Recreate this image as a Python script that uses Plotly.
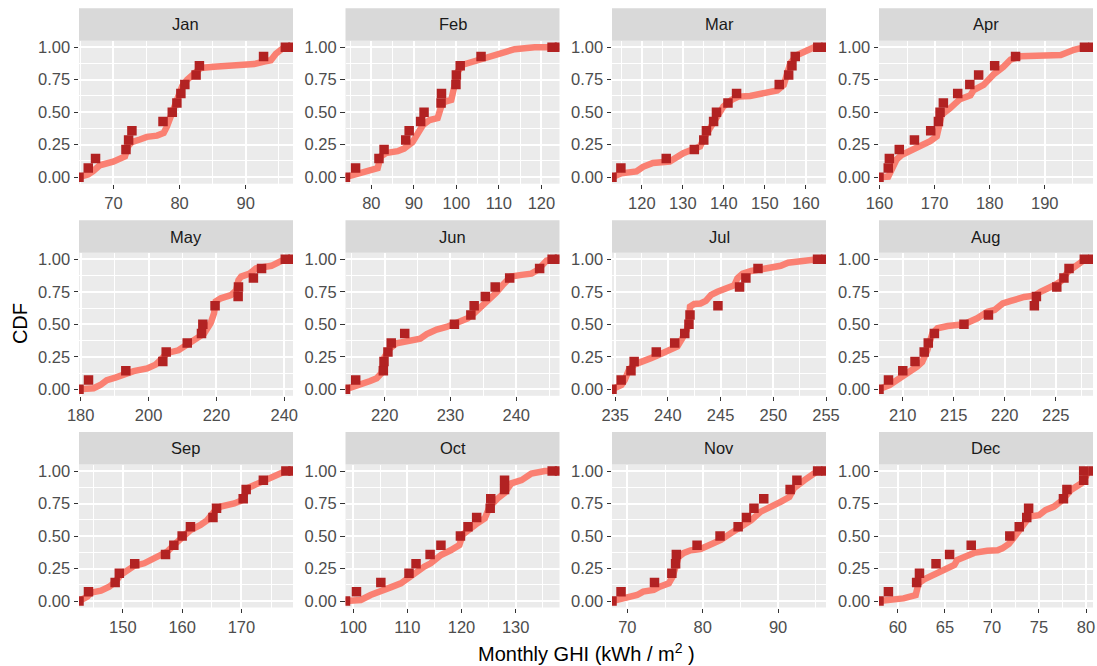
import plotly.graph_objects as go

# ---------------- data ----------------
MONTHS = ["Jan", "Feb", "Mar", "Apr", "May", "Jun",
          "Jul", "Aug", "Sep", "Oct", "Nov", "Dec"]

LV = [0, 0.071, 0.143, 0.214, 0.286, 0.357, 0.429, 0.5, 0.571, 0.643, 0.714, 0.786, 0.857, 0.929, 1.0, 1.0]

jan_pts_x = [64.8, 66.2, 67.3, 71.9, 72.3, 72.8, 77.5, 78.9, 79.6, 80.2, 80.8, 82.5, 83.0, 92.7, 96.0, 97.15]
jan_pts_y = LV
jan_line_x = [64.8, 66.16, 66.93, 67.94, 69.97, 71.75, 72.25, 72.76, 74.0, 75.06, 76.6, 77.6, 78.1, 78.87, 79.6,
              80.4, 81.15, 82.2, 83.2, 85.2, 88.24, 91.28, 92.8, 93.8, 94.56, 95.57, 96.84, 97.15]
jan_line_y = [0, 0.02, 0.046, 0.092, 0.12, 0.16, 0.24, 0.27, 0.29, 0.31, 0.32, 0.34, 0.39, 0.49, 0.60,
              0.70, 0.75, 0.79, 0.84, 0.85, 0.86, 0.87, 0.89, 0.90, 0.95, 0.99, 1.0, 1.0]

feb_pts_x = [73.93, 76.3, 81.8, 83.0, 88.1, 88.9, 91.6, 92.4, 96.4, 96.5, 99.9, 100.0, 100.9, 105.8, 122.5, 124.25]
feb_pts_y = LV
feb_line_x = [73.93, 77.5, 79.9, 81.5, 82.2, 83.4, 86.2, 87.7, 89.7, 90.9, 92.1, 93.7, 95.6, 96.4, 97.2, 98.8,
              99.6, 100.3, 101.5, 103.9, 105.8, 109.0, 112.1, 113.7, 118.4, 124.25]
feb_line_y = [0, 0.03, 0.05, 0.07, 0.16, 0.185, 0.2, 0.22, 0.27, 0.34, 0.40, 0.44, 0.455, 0.54, 0.58, 0.595,
              0.70, 0.81, 0.865, 0.89, 0.915, 0.94, 0.97, 0.985, 1.0, 1.0]

mar_pts_x = [112.73, 114.9, 125.95, 132.8, 135.1, 135.75, 137.5, 138.2, 141.0, 143.1, 153.5, 155.8, 156.6, 157.4, 162.9, 164.9]
mar_pts_y = LV
mar_line_x = [112.73, 115.0, 118.7, 120.3, 122.7, 126.8, 130.1, 131.7, 134.2, 135.4, 136.6, 138.3, 139.9, 141.9,
              143.6, 146.4, 149.7, 153.0, 154.6, 155.4, 156.2, 157.9, 159.5, 162.0, 164.9]
mar_line_y = [0, 0.03, 0.044, 0.08, 0.11, 0.12, 0.185, 0.2, 0.236, 0.315, 0.38, 0.47, 0.545, 0.595,
              0.62, 0.625, 0.64, 0.667, 0.71, 0.80, 0.877, 0.94, 0.967, 1.0, 1.0]

apr_pts_x = [159.92, 161.6, 161.8, 163.6, 166.35, 169.3, 170.7, 171.0, 171.6, 174.2, 176.4, 178.0, 180.9, 184.7, 197.2, 198.75]
apr_pts_y = LV
apr_line_x = [159.92, 161.6, 162.2, 163.1, 164.0, 165.5, 167.4, 169.2, 170.4, 170.9, 171.3, 172.8, 174.6, 176.5,
              177.1, 178.9, 180.7, 182.5, 183.8, 185.6, 188.6, 192.9, 195.3, 197.2, 198.75]
apr_line_y = [0, 0.005, 0.056, 0.136, 0.17, 0.2, 0.24, 0.277, 0.315, 0.42, 0.48, 0.53, 0.6, 0.63,
              0.67, 0.71, 0.79, 0.85, 0.905, 0.93, 0.935, 0.94, 0.98, 1.0, 1.0]

may_pts_x = [179.5, 182.3, 193.3, 204.2, 205.2, 211.4, 215.6, 216.0, 219.6, 226.4, 226.5, 230.9, 233.3, 240.3, 242.57]
may_pts_y = [0, 0.071, 0.143, 0.214, 0.286, 0.357, 0.429, 0.5, 0.643, 0.714, 0.786, 0.857, 0.929, 1.0, 1.0]
may_line_x = [179.5, 183.8, 185.8, 187.7, 190.2, 193.6, 195.6, 199.6, 202.1, 203.5, 205.5, 208.8, 211.4, 214.4,
              216.4, 218.3, 219.3, 219.8, 221.3, 224.3, 225.8, 226.5, 227.3, 229.8, 231.7, 236.2, 238.1, 240.1, 242.57]
may_line_y = [0, 0.008, 0.033, 0.07, 0.09, 0.12, 0.14, 0.16, 0.19, 0.225, 0.28, 0.30, 0.34, 0.39,
              0.43, 0.51, 0.585, 0.675, 0.70, 0.725, 0.76, 0.84, 0.867, 0.89, 0.93, 0.95, 0.974, 1.0, 1.0]

jun_pts_x = [214.05, 215.6, 219.8, 219.9, 220.5, 221.0, 223.05, 230.6, 233.1, 233.6, 235.3, 236.8, 239.0, 243.55, 245.45, 246.57]
jun_pts_y = LV
jun_line_x = [214.05, 216.3, 217.8, 218.8, 219.5, 220.0, 220.8, 221.8, 223.3, 224.4, 225.4, 226.4, 227.9, 229.4,
              231.1, 232.6, 233.6, 234.7, 235.9, 236.9, 237.9, 239.2, 240.8, 242.3, 243.3, 244.6, 245.35, 246.57]
jun_line_y = [0, 0.033, 0.064, 0.085, 0.123, 0.25, 0.315, 0.354, 0.367, 0.38, 0.39, 0.425, 0.46, 0.48,
              0.51, 0.546, 0.585, 0.636, 0.687, 0.74, 0.80, 0.867, 0.88, 0.89, 0.92, 0.99, 1.0, 1.0]

jul_pts_x = [234.7, 235.57, 236.5, 236.8, 238.9, 240.65, 241.6, 242.0, 242.1, 244.75, 246.8, 247.4, 248.55, 254.2, 255.0]
jul_pts_y = [0, 0.071, 0.143, 0.214, 0.286, 0.357, 0.429, 0.5, 0.571, 0.643, 0.786, 0.857, 0.929, 1.0, 1.0]
jul_line_x = [234.7, 235.6, 235.9, 236.3, 236.8, 237.6, 238.4, 239.0, 239.8, 240.4, 240.9, 241.35, 241.8, 242.0,
              242.1, 242.5, 243.1, 243.6, 244.1, 244.7, 245.6, 246.3, 246.6, 247.1, 247.9, 249.1, 250.7, 251.4,
              252.6, 254.2, 255.0]
jul_line_y = [0, 0.033, 0.07, 0.15, 0.19, 0.21, 0.24, 0.26, 0.29, 0.30, 0.33, 0.39, 0.456, 0.53,
              0.636, 0.656, 0.66, 0.68, 0.726, 0.75, 0.777, 0.80, 0.854, 0.89, 0.91, 0.923, 0.95, 0.974,
              0.987, 1.0, 1.0]

aug_pts_x = [207.67, 208.6, 210.0, 211.2, 212.1, 212.5, 213.1, 216.0, 218.4, 222.9, 223.1, 225.1, 225.8, 226.3, 227.8, 228.65]
aug_pts_y = LV
aug_line_x = [207.67, 208.7, 209.4, 210.4, 211.4, 211.9, 212.4, 212.9, 213.4, 214.4, 216.0, 217.3, 218.3, 219.0,
              219.8, 220.6, 221.9, 222.9, 223.5, 224.85, 225.5, 226.2, 227.1, 227.8, 228.65]
aug_line_y = [0, 0.033, 0.07, 0.12, 0.175, 0.21, 0.30, 0.43, 0.47, 0.487, 0.5, 0.546, 0.597, 0.61,
              0.66, 0.68, 0.71, 0.72, 0.75, 0.80, 0.83, 0.905, 0.956, 0.995, 1.0]

sep_pts_x = [142.6, 144.2, 148.7, 149.4, 152.0, 157.2, 158.6, 160.0, 161.4, 165.2, 165.8, 170.3, 170.8, 173.7, 177.5, 178.7]
sep_pts_y = LV
sep_line_x = [142.6, 144.0, 144.6, 146.3, 147.7, 148.8, 149.6, 150.8, 151.9, 153.6, 155.3, 157.5, 158.6, 160.0,
              161.4, 163.1, 164.2, 165.4, 166.5, 168.8, 170.2, 171.0, 172.7, 174.4, 176.1, 177.5, 178.7]
sep_line_y = [0, 0.033, 0.064, 0.08, 0.11, 0.15, 0.2, 0.24, 0.27, 0.29, 0.33, 0.38, 0.43, 0.49,
              0.546, 0.585, 0.62, 0.687, 0.726, 0.75, 0.777, 0.867, 0.905, 0.93, 0.97, 1.0, 1.0]

oct_pts_x = [98.57, 100.6, 105.1, 110.3, 111.6, 114.2, 116.2, 119.8, 121.2, 122.8, 125.3, 125.4, 127.95, 127.95, 136.75, 138.1]
oct_pts_y = LV
oct_line_x = [98.57, 101.4, 103.2, 105.1, 106.9, 108.8, 110.0, 111.9, 113.1, 114.3, 116.2, 118.0, 119.6, 120.2,
              121.2, 123.0, 124.3, 125.2, 126.7, 128.0, 129.2, 131.1, 132.9, 135.4, 138.1]
oct_line_y = [0, 0.008, 0.046, 0.072, 0.105, 0.136, 0.174, 0.226, 0.264, 0.29, 0.354, 0.39, 0.43, 0.51,
              0.546, 0.60, 0.636, 0.726, 0.79, 0.833, 0.905, 0.93, 0.98, 1.0, 1.0]

nov_pts_x = [67.96, 69.16, 73.6, 75.9, 76.4, 76.5, 79.25, 82.3, 84.7, 85.8, 86.8, 88.1, 91.6, 92.5, 95.25, 96.36]
nov_pts_y = LV
nov_line_x = [67.96, 69.9, 71.3, 72.1, 73.5, 74.3, 75.5, 76.0, 76.4, 76.8, 77.5, 78.4, 79.7, 81.0, 82.4,
              83.7, 85.0, 86.4, 87.7, 89.0, 90.4, 91.5, 92.1, 93.5, 94.8, 95.25, 96.36]
nov_line_y = [0, 0.02, 0.046, 0.072, 0.085, 0.11, 0.136, 0.187, 0.29, 0.34, 0.37, 0.39, 0.40, 0.43, 0.47,
              0.52, 0.567, 0.62, 0.687, 0.72, 0.764, 0.80, 0.867, 0.93, 0.98, 1.0, 1.0]

dec_pts_x = [58.0, 59.0, 62.0, 62.3, 64.06, 65.5, 67.8, 71.9, 72.9, 73.7, 73.9, 77.6, 77.97, 79.75, 79.75, 80.74]
dec_pts_y = LV
dec_line_x = [58.0, 59.5, 60.6, 61.9, 62.2, 62.8, 63.8, 64.9, 66.0, 66.3, 67.0, 68.1, 69.5, 70.6, 71.1,
              71.8, 72.4, 73.4, 74.0, 75.0, 75.7, 76.6, 77.5, 78.4, 79.5, 80.0, 80.2, 80.74]
dec_line_y = [0, 0.008, 0.02, 0.046, 0.136, 0.167, 0.2, 0.244, 0.277, 0.315, 0.34, 0.37, 0.387, 0.39, 0.405,
              0.44, 0.495, 0.585, 0.65, 0.66, 0.70, 0.726, 0.777, 0.854, 0.905, 0.96, 1.0, 1.0]

PTS_X = [jan_pts_x, feb_pts_x, mar_pts_x, apr_pts_x, may_pts_x, jun_pts_x,
         jul_pts_x, aug_pts_x, sep_pts_x, oct_pts_x, nov_pts_x, dec_pts_x]
PTS_Y = [jan_pts_y, feb_pts_y, mar_pts_y, apr_pts_y, may_pts_y, jun_pts_y,
         jul_pts_y, aug_pts_y, sep_pts_y, oct_pts_y, nov_pts_y, dec_pts_y]
LINE_X = [jan_line_x, feb_line_x, mar_line_x, apr_line_x, may_line_x, jun_line_x,
          jul_line_x, aug_line_x, sep_line_x, oct_line_x, nov_line_x, dec_line_x]
LINE_Y = [jan_line_y, feb_line_y, mar_line_y, apr_line_y, may_line_y, jun_line_y,
          jul_line_y, aug_line_y, sep_line_y, oct_line_y, nov_line_y, dec_line_y]

X_TICK_STEP = [10, 10, 10, 10, 20, 10, 5, 5, 10, 10, 10, 5]
Y_TICKS = [0, 0.25, 0.5, 0.75, 1.0]

# ---------------- layout ----------------
W, H = 1097, 666
FONT = "Liberation Sans, Arial, Helvetica, sans-serif"
TICK_SIZE = 16.5
col_left = [79, 345.5, 612, 879]
panel_w = 214
row_top = [40.7, 252.8, 464.5]
panel_h = 143
strip_h = 32.5

fig = go.Figure()
layout = dict(
    width=W, height=H,
    margin=dict(l=0, r=0, t=0, b=0, pad=0),
    paper_bgcolor="white",
    plot_bgcolor="#EBEBEB",
    showlegend=False,
    font=dict(family=FONT),
    shapes=[], annotations=[],
)

for i, m in enumerate(MONTHS):
    r, c = divmod(i, 4)
    sfx = "" if i == 0 else str(i + 1)
    xa, ya = "x" + sfx, "y" + sfx
    fig.add_trace(go.Scatter(x=LINE_X[i], y=LINE_Y[i], mode="lines",
                             line=dict(color="#FA8072", width=6.5),
                             xaxis=xa, yaxis=ya, hoverinfo="skip"))
    fig.add_trace(go.Scatter(x=PTS_X[i], y=PTS_Y[i], mode="markers",
                             marker=dict(symbol="square", size=9.5, color="#B22222"),
                             xaxis=xa, yaxis=ya))
    x0 = col_left[c] / W
    x1 = (col_left[c] + panel_w) / W
    ytop = 1 - row_top[r] / H
    ybot = 1 - (row_top[r] + panel_h) / H
    step = X_TICK_STEP[i]
    layout["xaxis" + sfx] = dict(
        domain=[x0, x1], anchor=ya, automargin=False,
        range=[min(PTS_X[i]), max(PTS_X[i])],
        tickmode="linear", tick0=0, dtick=step,
        ticks="outside", ticklen=4.5, tickwidth=1.3, tickcolor="#333333",
        tickfont=dict(size=TICK_SIZE, color="#4D4D4D", family=FONT),
        showgrid=True, gridcolor="white", gridwidth=1.9,
        minor=dict(tick0=0, dtick=step / 2, showgrid=True, gridcolor="white",
                   gridwidth=0.9, ticks=""),
        zeroline=False, showline=False, fixedrange=True,
    )
    layout["yaxis" + sfx] = dict(
        domain=[ybot, ytop], anchor=xa, automargin=False,
        range=[-0.05, 1.05],
        tickmode="array", tickvals=Y_TICKS, tickformat=".2f",
        ticks="outside", ticklen=4.5, tickwidth=1.3, tickcolor="#333333",
        tickfont=dict(size=TICK_SIZE, color="#4D4D4D", family=FONT),
        showgrid=True, gridcolor="white", gridwidth=1.9,
        minor=dict(tickvals=[0.125, 0.375, 0.625, 0.875], showgrid=True,
                   gridcolor="white", gridwidth=0.9, ticks=""),
        zeroline=False, showline=False, fixedrange=True,
    )
    # strip
    layout["shapes"].append(dict(type="rect", xref="paper", yref="paper",
                                 x0=x0, x1=x1, y0=ytop, y1=1 - (row_top[r] - strip_h) / H,
                                 fillcolor="#D9D9D9", line=dict(width=0), layer="below"))
    layout["annotations"].append(dict(text=m, xref="paper", yref="paper",
                                      x=(x0 + x1) / 2, y=1 - (row_top[r] - strip_h / 2) / H,
                                      xanchor="center", yanchor="middle", showarrow=False,
                                      font=dict(size=TICK_SIZE, color="#1A1A1A", family=FONT)))

layout["annotations"].append(dict(text="Monthly GHI (kWh / m<sup>2</sup> )", xref="paper", yref="paper",
                                  x=(col_left[0] + col_left[3] + panel_w) / 2 / W, y=1 - 652 / H,
                                  xanchor="center", yanchor="middle", showarrow=False,
                                  font=dict(size=20, color="black", family=FONT)))
layout["annotations"].append(dict(text="CDF", xref="paper", yref="paper",
                                  x=20 / W, y=1 - (row_top[0] + row_top[2] + panel_h) / 2 / H,
                                  xanchor="center", yanchor="middle", showarrow=False, textangle=-90,
                                  font=dict(size=20, color="black", family=FONT)))

fig.update_layout(**layout)
fig.write_html("out.html")
